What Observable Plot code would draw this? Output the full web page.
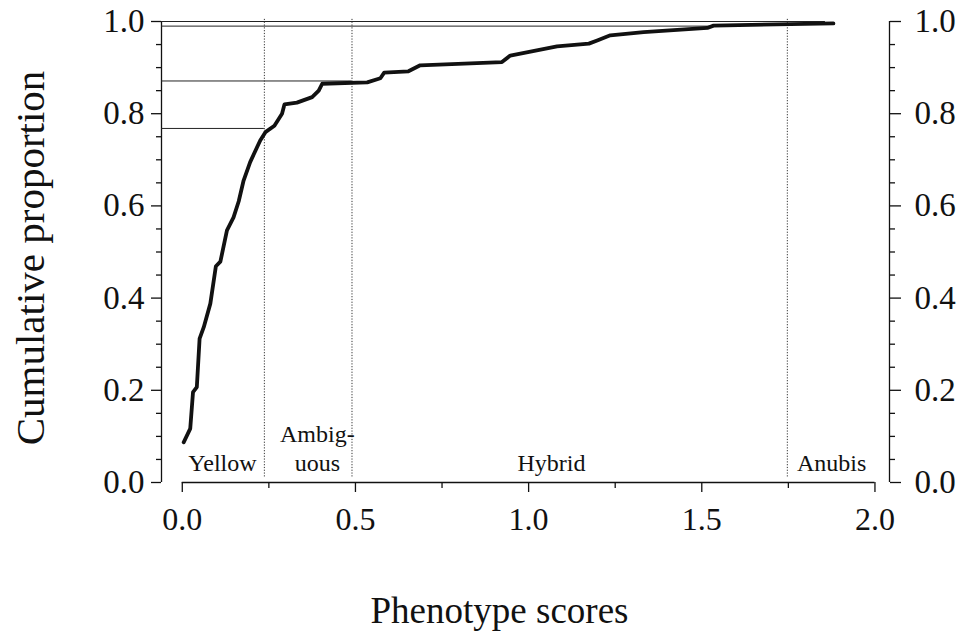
<!DOCTYPE html>
<html><head><meta charset="utf-8">
<script src="https://cdn.jsdelivr.net/npm/d3@7"></script>
<script src="https://cdn.jsdelivr.net/npm/@observablehq/plot@0.6"></script>
<style>body{margin:0;background:#fff}</style>
</head><body><div id="chart"></div>
<script>
// Data
const scores  = [0.004,0.023,0.031,0.042,0.050,0.062,0.081,0.097,0.110,0.129,0.148,0.163,0.177,0.196,0.225,0.240,0.266,0.288,0.295,0.331,0.375,0.394,0.404,0.447,0.534,0.572,0.583,0.653,0.687,0.923,0.947,1.082,1.174,1.198,1.236,1.332,1.516,1.534,1.880];
const cumProp = [0.087,0.117,0.196,0.207,0.312,0.337,0.388,0.469,0.479,0.547,0.575,0.610,0.655,0.695,0.742,0.760,0.774,0.800,0.820,0.824,0.836,0.850,0.865,0.866,0.868,0.877,0.889,0.892,0.905,0.912,0.926,0.946,0.952,0.959,0.970,0.977,0.986,0.991,0.996];
const boundaryScores = [0.237, 0.49, 1.747];
const refLevels = [0.768, 0.871, 0.990, 1.0];
const refEnds   = [0.237, 0.49, 1.53, 1.857];
const regionNames   = ["Yellow", "Ambig-\nuous", "Hybrid", "Anubis"];
const regionCenters = [0.116, 0.39, 1.066, 1.875];
const xMajorTicks = [0, 0.5, 1.0, 1.5, 2.0];
const xMinorTicks = [0.25, 0.75, 1.25, 1.75];
const yMajorTicks = [0, 0.2, 0.4, 0.6, 0.8, 1.0];
const yMinorTicks = [0.05,0.1,0.15,0.25,0.3,0.35,0.45,0.5,0.55,0.65,0.7,0.75,0.85,0.9,0.95];
const xLabel = "Phenotype scores";
const yLabel = "Cumulative proportion";
const xDomain = [-0.06, 2.042];

const curve = scores.map((s, i) => ({score: s, prop: cumProp[i]}));
const refs = refLevels.map((v, i) => ({level: v, end: refEnds[i]}));
const regions = regionNames.map((n, i) => ({name: n, x: regionCenters[i]}));

const font = "'Liberation Serif', 'Times New Roman', serif";
const chart = Plot.plot({
  width: 961, height: 634,
  marginLeft: 161, marginRight: 72, marginTop: 21, marginBottom: 152,
  style: {fontFamily: font, background: "#fff", color: "#111"},
  x: {domain: xDomain},
  y: {domain: [0, 1]},
  marks: [
    // axis lines
    Plot.ruleX([xDomain[0]], {stroke: "#111", strokeWidth: 1.3}),
    Plot.ruleX([xDomain[1]], {stroke: "#111", strokeWidth: 1.3}),
    Plot.ruleY([0], {x1: 0, x2: 2, stroke: "#111", strokeWidth: 1.3}),
    // left axis
    Plot.axisY({anchor: "left", ticks: yMinorTicks, tickSize: 5, tickFormat: () => "", strokeWidth: 1.3, label: null}),
    Plot.axisY({anchor: "left", ticks: yMajorTicks, tickSize: 10, tickPadding: 7, tickFormat: d3.format(".1f"), fontSize: 33, strokeWidth: 1.3, label: null}),
    // right axis
    Plot.axisY({anchor: "right", ticks: yMinorTicks, tickSize: 5, tickFormat: () => "", strokeWidth: 1.3, label: null}),
    Plot.axisY({anchor: "right", ticks: yMajorTicks, tickSize: 11, tickPadding: 14, tickFormat: d3.format(".1f"), fontSize: 33, strokeWidth: 1.3, label: null}),
    // bottom axis
    Plot.axisX({anchor: "bottom", ticks: xMinorTicks, tickSize: 6, tickFormat: () => "", strokeWidth: 1.3, label: null}),
    Plot.axisX({anchor: "bottom", ticks: xMajorTicks, tickSize: 10, tickPadding: 15, tickFormat: d3.format(".1f"), fontSize: 32, strokeWidth: 1.3, label: null}),
    // reference lines
    Plot.ruleY(refs, {y: "level", x1: xDomain[0], x2: "end", stroke: "#222", strokeWidth: 1}),
    Plot.ruleX(boundaryScores, {y1: 0.012, y2: 1.008, stroke: "#333", strokeWidth: 1, strokeDasharray: "1.2,1.6"}),
    // curve
    Plot.line(curve, {x: "score", y: "prop", stroke: "#111", strokeWidth: 3.8, strokeLinejoin: "round", strokeLinecap: "round"}),
    // region labels
    Plot.text(regions, {x: "x", text: "name", frameAnchor: "bottom", dy: -12, lineAnchor: "bottom", lineHeight: 1.2, fontSize: 24, fill: "#111"}),
    // axis titles
    Plot.text([xLabel], {frameAnchor: "bottom", dx: -26, dy: 129, lineAnchor: "middle", textAnchor: "middle", fontSize: 37, fill: "#111"}),
    Plot.text([yLabel], {frameAnchor: "left", textAnchor: "middle", rotate: -90, dx: -131, dy: 6, lineAnchor: "middle", fontSize: 41, fill: "#111"})
  ]
});
document.getElementById("chart").appendChild(chart);
</script></body></html>
